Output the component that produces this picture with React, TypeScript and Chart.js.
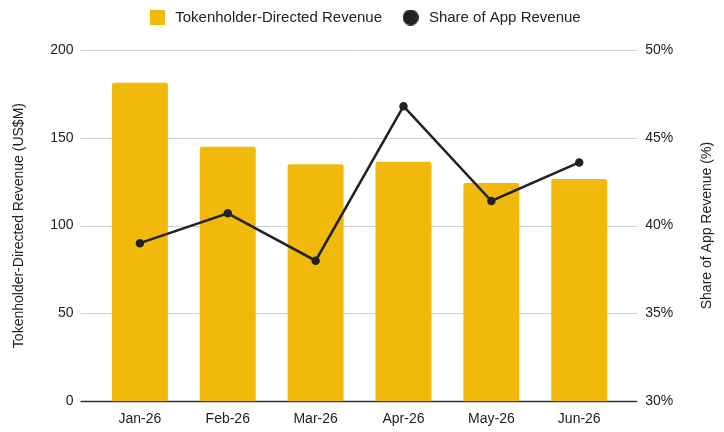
import React, { useEffect, useRef } from "react";
import { Chart, registerables } from "chart.js";

Chart.register(...registerables);

const months = ["Jan-26", "Feb-26", "Mar-26", "Apr-26", "May-26", "Jun-26"];
const revenue = [181.3, 144.9, 135.0, 136.4, 124.2, 126.5]; // US$M
const sharePct = [39.0, 40.7, 38.0, 46.8, 41.4, 43.6]; // %

const YELLOW = "#F0B90B";
const DARK = "#202226";
const TEXT = "#222222";
const FONT = "'Liberation Sans', Arial, sans-serif";

// legend markers drawn on little canvases so their size can be set exactly
function makeMarker(size: number, color: string, round: boolean) {
    const c = document.createElement("canvas");
    c.width = size;
    c.height = size;
    const g = c.getContext("2d");
    if (g) {
        g.fillStyle = color;
        if (round) {
            g.beginPath();
            g.arc(size / 2, size / 2, size / 2, 0, Math.PI * 2);
            g.fill();
        } else {
            g.fillRect(0, 0, size, size);
        }
    }
    return c;
}

// horizontal grid lines run a bit past the category area (like the sheets chart)
const gridPlugin = {
    id: "wideGrid",
    beforeDatasetsDraw(chart: any) {
        const { ctx, chartArea, scales } = chart;
        const y = scales.y;
        ctx.save();
        y.ticks.forEach((t: any) => {
            const py = Math.round(y.getPixelForValue(t.value)) + 0.5;
            ctx.beginPath();
            ctx.strokeStyle = t.value === 0 ? "#333333" : "#d0d0d0";
            ctx.lineWidth = t.value === 0 ? 1.5 : 1;
            ctx.moveTo(chartArea.left - 15.5, py);
            ctx.lineTo(chartArea.right + 14, py);
            ctx.stroke();
        });
        ctx.restore();
    },
};

// right axis title reads bottom-to-top like the left one
const rightTitlePlugin = {
    id: "rightTitle",
    afterDraw(chart: any) {
        const { ctx, chartArea, scales } = chart;
        const s = scales.y1;
        ctx.save();
        ctx.translate(s.right - 8.4, (chartArea.top + chartArea.bottom) / 2);
        ctx.rotate(-Math.PI / 2);
        ctx.fillStyle = TEXT;
        ctx.font = `14px ${FONT}`;
        ctx.textAlign = "center";
        ctx.textBaseline = "middle";
        ctx.fillText("Share of App Revenue (%)", 0, 0);
        ctx.restore();
    },
};

// extra room between legend and plot
const legendGapPlugin = {
    id: "legendGap",
    afterInit(chart: any) {
        const legend = chart.legend;
        if (!legend || legend._gapPatched) return;
        const fit = legend.fit;
        legend.fit = function () {
            fit.call(this);
            this.height += 15;
        };
        legend._gapPatched = true;
    },
};

const App: React.FC = () => {
    const canvasRef = useRef<HTMLCanvasElement | null>(null);
    const chartRef = useRef<Chart | null>(null);

    useEffect(() => {
        document.body.style.margin = "0";
        if (!canvasRef.current) return;
        if (chartRef.current) chartRef.current.destroy();

        const squareMark = makeMarker(15, YELLOW, false);
        const circleMark = makeMarker(16, DARK, true);

        chartRef.current = new Chart(canvasRef.current, {
            type: "bar",
            data: {
                labels: months,
                datasets: [
                    {
                        type: "bar",
                        label: "Tokenholder-Directed Revenue",
                        data: revenue,
                        yAxisID: "y",
                        backgroundColor: YELLOW,
                        borderRadius: 2,
                        borderSkipped: "bottom",
                        categoryPercentage: 1,
                        barPercentage: 0.637,
                        order: 1,
                    },
                    {
                        type: "line",
                        label: "Share of App Revenue",
                        data: sharePct,
                        yAxisID: "y1",
                        borderColor: DARK,
                        backgroundColor: DARK,
                        borderWidth: 2.5,
                        pointRadius: 3,
                        pointStyle: "circle",
                        tension: 0,
                        order: 0,
                    },
                ] as any,
            },
            options: {
                responsive: true,
                maintainAspectRatio: false,
                animation: false,
                layout: { padding: { left: 11, right: 8, top: -8, bottom: -11 } },
                plugins: {
                    legend: {
                        position: "top",
                        labels: {
                            usePointStyle: true,
                            pointStyleWidth: 21.4,
                            padding: 18,
                            color: TEXT,
                            font: { family: FONT, size: 15 },
                            sort: (a, b) => (a.datasetIndex ?? 0) - (b.datasetIndex ?? 0),
                            generateLabels: (chart) => {
                                const items = Chart.defaults.plugins.legend.labels.generateLabels(chart);
                                return items.map((it) => ({
                                    ...it,
                                    pointStyle: (it.datasetIndex === 0 ? squareMark : circleMark) as any,
                                }));
                            },
                        },
                    },
                    tooltip: { enabled: false },
                },
                scales: {
                    x: {
                        grid: { display: false, drawTicks: false },
                        border: { display: false },
                        ticks: { color: TEXT, font: { family: FONT, size: 14 }, padding: 10 },
                    },
                    y: {
                        position: "left",
                        min: 0,
                        max: 200,
                        ticks: { stepSize: 50, color: TEXT, padding: 22.4, font: { family: FONT, size: 14 } },
                        grid: { display: false, drawTicks: false },
                        border: { display: false },
                        title: {
                            display: true,
                            text: "Tokenholder-Directed Revenue (US$M)",
                            color: TEXT,
                            font: { family: FONT, size: 14 },
                            padding: { top: 0, bottom: 0 },
                        },
                    },
                    y1: {
                        position: "right",
                        min: 30,
                        max: 50,
                        ticks: {
                            stepSize: 5,
                            color: TEXT,
                            padding: 22,
                            font: { family: FONT, size: 14 },
                            callback: (v) => `${v}%`,
                        },
                        grid: { display: false, drawTicks: false },
                        border: { display: false },
                        title: {
                            // space is kept here; the text itself is drawn by rightTitlePlugin
                            display: true,
                            text: "Share of App Revenue (%)",
                            color: "rgba(0,0,0,0)",
                            font: { family: FONT, size: 14 },
                            padding: { top: 0, bottom: 4 },
                        },
                    },
                },
            },
            plugins: [gridPlugin, rightTitlePlugin, legendGapPlugin],
        });

        return () => {
            if (chartRef.current) {
                chartRef.current.destroy();
                chartRef.current = null;
            }
        };
    }, []);

    return (
        <div style={{ width: 724, height: 432, position: "relative" }}>
            <canvas ref={canvasRef} />
        </div>
    );
};

export default App;
